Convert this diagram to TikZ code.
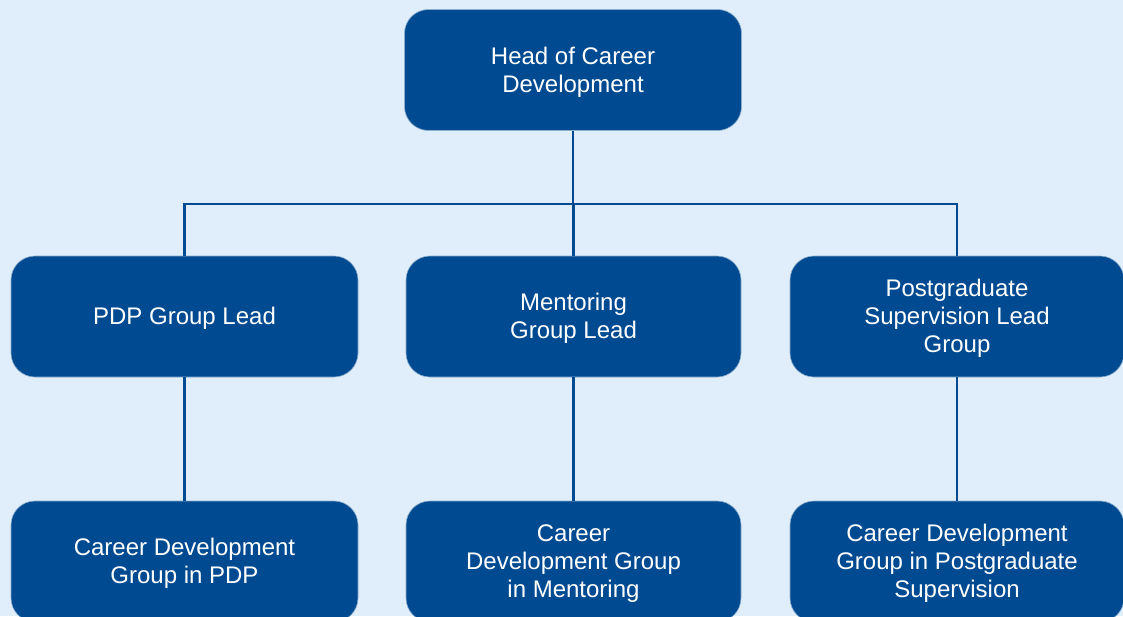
\documentclass[tikz,border=0pt]{standalone}
\usepackage{fontspec}
\setmainfont{Liberation Sans}
\usepackage{tikz}
\usetikzlibrary{positioning,calc}
\definecolor{PAGEBG}{RGB}{224,237,250}
\definecolor{ORGBLUE}{RGB}{0,74,145}
\newcommand{\lifttext}{\rule{0pt}{21.5pt}}

\begin{document}
\begin{tikzpicture}[x=1pt,y=-1pt,font=\fontsize{24}{28}\selectfont]
    \tikzset{unit/.style={fill=ORGBLUE,draw=ORGBLUE!45!white,line width=0.6pt,rounded corners=24pt,minimum height=121pt,text=white,align=center,inner sep=0pt},
      link/.style={draw=ORGBLUE,line width=2.5pt}}
    \clip (0,0) rectangle (1123,616);
    \fill[PAGEBG] (0,0) rectangle (1123,616);
    % top level
    \node[unit,minimum width=337pt] (head) at (573,70) {\lifttext Head of Career\\Development};
    % group leads
    \node[unit,minimum width=347pt] (pdp) at (184.5,316.5) {\lifttext PDP Group Lead};
    \node[unit,minimum width=335pt] (ment) at (573.5,316.5) {\lifttext Mentoring\\Group Lead};
    \node[unit,minimum width=334pt] (pg) at (957,316.5) {\lifttext Postgraduate\\Supervision Lead\\Group};
    % career development groups
    \node[unit,minimum width=347pt] (pdpcd) at (184.5,561.5) {\lifttext Career Development\\Group in PDP};
    \node[unit,minimum width=335pt] (mentcd) at (573.5,561.5) {\lifttext Career\\Development Group\\in Mentoring};
    \node[unit,minimum width=334pt] (pgcd) at (957,561.5) {\lifttext Career Development\\Group in Postgraduate\\Supervision};
    \coordinate (bus) at (573.5,204);
    \draw[link] (head.south) -- (head.south |- bus);
    \draw[link] (pdp.north) |- (bus) -| (pg.north);
    \draw[link] (bus) -- (ment.north);
    \draw[link] (pdp.south) -- (pdpcd.north);
    \draw[link] (ment.south) -- (mentcd.north);
    \draw[link] (pg.south) -- (pgcd.north);
\end{tikzpicture}
\end{document}
